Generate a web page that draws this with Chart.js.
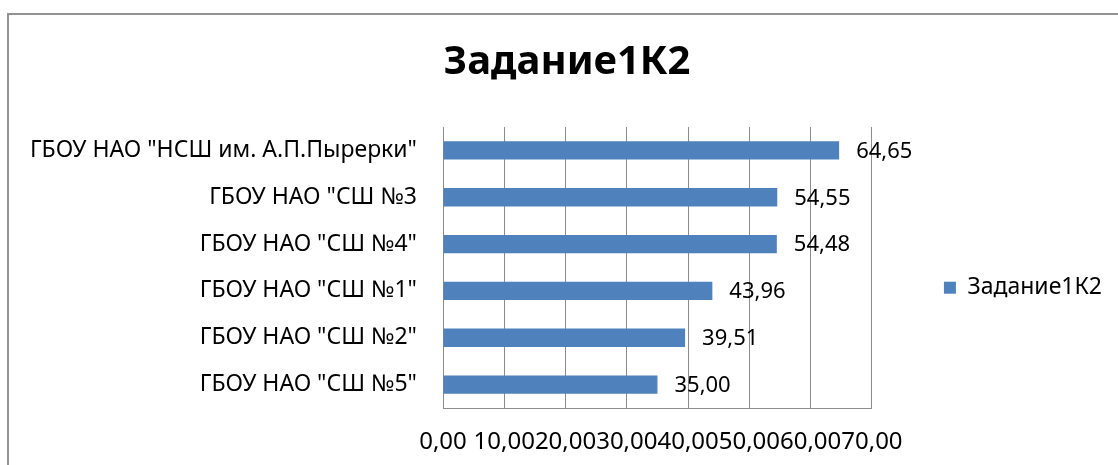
<!DOCTYPE html>
<html>
<head>
<meta charset="utf-8">
<script src="https://cdn.jsdelivr.net/npm/chart.js@4/dist/chart.umd.min.js"></script>
<style>
  body { margin: 0; background: #fff; overflow: hidden; }
  #wrap { position: relative; width: 1118px; height: 465px; }
  #frame { position: absolute; left: 7px; top: 13px; width: 1200px; height: 600px;
           border: 2px solid #939393; pointer-events: none; }
</style>
</head>
<body>
<div id="wrap">
  <canvas id="barChart"></canvas>
  <div id="frame"></div>
</div>
<script>
// данные диаграммы
var schools = [
  'ГБОУ НАО "НСШ им. А.П.Пырерки"',
  'ГБОУ НАО "СШ №3',
  'ГБОУ НАО "СШ №4"',
  'ГБОУ НАО "СШ №1"',
  'ГБОУ НАО "СШ №2"',
  'ГБОУ НАО "СШ №5"'
];
var scores = [64.65, 54.55, 54.48, 43.96, 39.51, 35.00];
var xTickLabels = ["0,00", "10,00", "20,00", "30,00", "40,00", "50,00", "60,00", "70,00"];
var seriesName = "Задание1К2";

var fontFamily = "'Noto Sans', 'Open Sans', sans-serif";

// подписи значений справа от полос
var valueLabels = {
  id: 'valueLabels',
  afterDatasetsDraw: function (chart) {
    var ctx = chart.ctx;
    var meta = chart.getDatasetMeta(0);
    ctx.save();
    ctx.font = "22px " + fontFamily;
    ctx.fillStyle = "#000";
    ctx.textAlign = "left";
    ctx.textBaseline = "middle";
    meta.data.forEach(function (bar, i) {
      var txt = scores[i].toFixed(2).replace('.', ',');
      ctx.fillText(txt, bar.x + 17, bar.y + 1);
    });
    ctx.restore();
  }
};

var ctxB = document.getElementById("barChart").getContext('2d');
var myBarChart = new Chart(ctxB, {
  type: 'bar',
  data: {
    labels: schools,
    datasets: [{
      label: seriesName,
      data: scores,
      backgroundColor: "#4F81BD",
      borderWidth: 0,
      barPercentage: 0.39,
      categoryPercentage: 1
    }]
  },
  options: {
    indexAxis: 'y',
    responsive: true,
    maintainAspectRatio: false,
    animation: false,
    layout: { padding: { left: 22, right: 6, top: 0, bottom: 0 } },
    scales: {
      x: {
        min: 0,
        max: 70,
        ticks: {
          stepSize: 10,
          padding: 20,
          color: "#000",
          font: { family: fontFamily, size: 24 },
          maxRotation: 0,
          autoSkip: false,
          callback: function (value, index) { return xTickLabels[index]; }
        },
        grid: { color: "#8c8c8c", drawTicks: false },
        border: { color: "#8c8c8c" },
        afterFit: function (scale) { scale.height = 57; }
      },
      y: {
        ticks: {
          padding: 26,
          color: "#000",
          font: { family: fontFamily, size: 23 }
        },
        grid: { display: false, drawTicks: false },
        border: { color: "#8c8c8c" },
        afterFit: function (scale) { scale.width = 421; }
      }
    },
    plugins: {
      title: {
        display: true,
        text: seriesName,
        color: "#000",
        font: { family: fontFamily, size: 40, weight: 'bold' },
        padding: { top: 39, bottom: 40 }
      },
      legend: {
        position: 'right',
        fullSize: false,
        title: { display: true, text: ' ', padding: { top: 0, bottom: 26 } },
        labels: {
          boxWidth: 12,
          boxHeight: 12,
          padding: 72,
          color: "#000",
          font: { family: fontFamily, size: 23 }
        }
      },
      tooltip: { enabled: false }
    }
  },
  plugins: [valueLabels]
});
</script>
</body>
</html>
